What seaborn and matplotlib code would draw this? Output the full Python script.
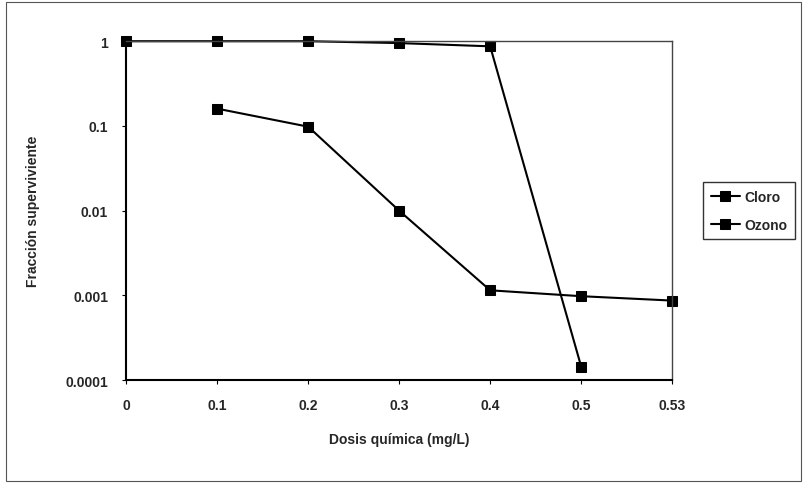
import numpy as np
import pandas as pd
import seaborn as sns
import matplotlib.pyplot as plt
import matplotlib.ticker as mticker
from matplotlib.patches import Rectangle

# dosis (mg/L) y fraccion superviviente
dosis = ["0", "0.1", "0.2", "0.3", "0.4", "0.5", "0.53"]
cloro = [1.0, 1.0, 1.0, 0.95, 0.87, 0.000145, np.nan]
ozono = [np.nan, 0.16, 0.098, 0.0100, 0.00115, 0.00098, 0.00087]

df = pd.DataFrame({
    "dosis": dosis * 2,
    "fraccion": cloro + ozono,
    "serie": ["Cloro"] * len(dosis) + ["Ozono"] * len(dosis),
})

sns.set_theme(style="white")
plt.rcParams["font.family"] = ["Liberation Sans", "DejaVu Sans"]

fig = plt.figure(figsize=(8.04, 4.85), dpi=100)
ax = fig.add_axes([0.157, 0.214, 0.679, 0.699])

sns.lineplot(data=df, x="dosis", y="fraccion", hue="serie", style="serie",
             palette=["black", "black"], markers=["s", "s"], dashes=False,
             markersize=6.5, linewidth=1.5, markeredgecolor="black", ax=ax,
             sort=False, clip_on=False)

ax.set_yscale("log")
ax.set_ylim(0.0001, 1)
ax.set_xlim(0, len(dosis) - 1)
ax.yaxis.set_major_locator(mticker.FixedLocator([0.0001, 0.001, 0.01, 0.1, 1]))
ax.yaxis.set_major_formatter(mticker.FixedFormatter(["0.0001", "0.001", "0.01", "0.1", "1"]))
ax.yaxis.set_minor_locator(mticker.NullLocator())

ax.tick_params(axis="both", which="major", length=3, width=0.8, color="black",
               labelsize=10, pad=10, direction="out", left=True, bottom=True)
for lab in ax.get_xticklabels() + ax.get_yticklabels():
    lab.set_fontweight("bold")

for side in ["left", "bottom"]:
    ax.spines[side].set_color("black")
    ax.spines[side].set_linewidth(1.5)
for side in ["top", "right"]:
    ax.spines[side].set_color("#444444")
    ax.spines[side].set_linewidth(1.0)

ax.set_xlabel("Dosis química (mg/L)", fontsize=10, fontweight="bold", labelpad=14)
ax.set_ylabel("Fracción superviviente", fontsize=10, fontweight="bold", labelpad=18)

leg = ax.legend(loc="center left", bbox_to_anchor=(1.057, 0.50), frameon=True,
                prop={"size": 10, "weight": "bold"}, handlelength=2.1,
                handletextpad=0.3, borderpad=0.55, fancybox=False,
                labelspacing=1.0, borderaxespad=0)
leg.get_frame().set_edgecolor("black")
leg.get_frame().set_linewidth(1.0)

# marco exterior
fig.patches.append(Rectangle((0.008, 0.006), 0.988, 0.988, transform=fig.transFigure,
                             fill=False, edgecolor="#555555", linewidth=0.8))

fig.savefig("out.png", dpi=100)
